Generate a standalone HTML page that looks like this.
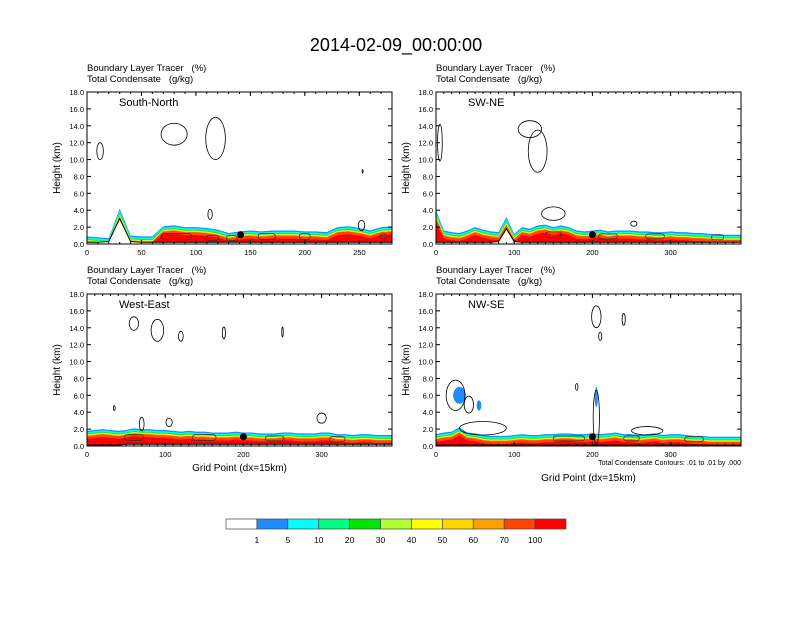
<!DOCTYPE html>
<html><head><meta charset="utf-8"><style>
body{margin:0;background:#fff;font-family:"Liberation Sans",sans-serif}
svg text{font-family:"Liberation Sans",sans-serif;white-space:pre}
</style></head><body>
<svg id="c" width="792" height="612" viewBox="0 0 792 612">
<text x="396" y="51" font-size="18" text-anchor="middle">2014-02-09_00:00:00</text>
</svg>
<script>
// ---- data ----
const panelTitles=["South-North","SW-NE","West-East","NW-SE"];
const xMaxes=[280,390,390,390];
const xTickVals1=[0,50,100,150,200,250];
const xTickVals2=[0,100,200,300];
const yTickVals=[0,2,4,6,8,10,12,14,16,18];
const pbl1=[0.9,0.8,0.7,4.2,1.0,0.9,0.9,2.1,2.2,2.0,2.0,1.9,1.7,1.3,1.5,1.6,1.5,1.6,1.6,1.6,1.5,1.5,1.4,2.0,2.1,1.9,1.6,2.0,2.1];
const pbl2=[4.0,1.6,1.4,1.3,1.6,2.0,1.7,1.5,1.4,3.2,1.2,2.0,1.8,2.2,2.3,2.0,2.2,2.0,1.6,1.5,1.6,1.7,1.5,1.6,1.6,1.6,1.5,1.5,1.4,1.4,1.5,1.4,1.4,1.3,1.3,1.2,1.1,1.1,1.1,1.1];
const pbl3=[1.8,1.9,2.0,1.9,1.8,1.9,2.1,2.0,2.0,1.9,1.9,1.8,1.7,1.8,1.7,1.7,1.6,1.6,1.6,1.7,1.6,1.6,1.5,1.5,1.5,1.6,1.6,1.5,1.5,1.5,1.6,1.6,1.4,1.4,1.3,1.4,1.4,1.3,1.3,1.3];
const pbl4=[1.4,1.6,1.7,2.2,1.6,1.5,1.3,1.2,1.2,1.2,1.3,1.4,1.3,1.3,1.4,1.4,1.5,1.5,1.4,1.4,1.5,1.4,1.5,1.6,1.4,1.4,1.3,1.4,1.5,1.3,1.4,1.4,1.3,1.2,1.2,1.1,1.1,1.1,1.1,1.1];
const terrain1=[0.2,0.2,0.3,3.0,0.3,0.2,0.2,0.2,0.2,0.2,0.2,0.2,0.2,0.2,0.2,0.2,0.2,0.2,0.2,0.2,0.2,0.2,0.2,0.2,0.2,0.2,0.2,0.2,0.2];
const terrain2=[0.2,0.2,0.2,0.2,0.2,0.2,0.2,0.2,0.3,1.8,0.3,0.2,0.2,0.2,0.2,0.2,0.2,0.2,0.2,0.2,0.2,0.2,0.2,0.2,0.2,0.2,0.2,0.2,0.2,0.2,0.2,0.2,0.2,0.2,0.2,0.2,0.2,0.2,0.2,0.2];
const terrain3=[0.1,0.1,0.1,0.1,0.1,0.2,0.2,0.2,0.2,0.2,0.2,0.2,0.2,0.2,0.2,0.2,0.2,0.2,0.2,0.2,0.2,0.2,0.2,0.2,0.2,0.2,0.2,0.2,0.2,0.2,0.2,0.2,0.2,0.2,0.2,0.2,0.2,0.2,0.2,0.2];
const terrain4=[0.1,0.1,0.1,0.1,0.1,0.1,0.1,0.1,0.1,0.1,0.1,0.1,0.1,0.1,0.1,0.1,0.1,0.1,0.1,0.1,0.1,0.1,0.1,0.1,0.1,0.1,0.1,0.1,0.1,0.1,0.1,0.1,0.1,0.1,0.1,0.1,0.1,0.1,0.1,0.1];
// contours: [x, z, rx(grid), rz(km)]
const cont1=[[12,11,3,1],[80,13,12,1.3],[118,12.5,9,2.5],[113,3.5,2,0.6],[253,8.6,0.5,0.2],[252,2.2,3,0.6]];
const cont2=[[5,12,3,2.2],[120,13.6,15,1],[130,11,12,2.5],[150,3.6,15,0.8],[253,2.4,4,0.3]];
const cont3=[[60,14.5,6,0.8],[90,13.7,8,1.3],[120,13,3,0.6],[175,13.4,2,0.7],[250,13.5,1,0.6],[35,4.5,1,0.3],[70,2.6,3,0.8],[105,2.8,4,0.5],[300,3.3,6,0.6]];
const cont4=[[25,6,12,1.8],[42,4.9,6,1],[205,15.3,6,1.3],[240,15,2,0.7],[210,13,2,0.5],[180,7,1.5,0.4],[205,3.4,4,3.2],[60,2.1,30,0.8],[270,1.8,20,0.5]];
const surfCont1=[[82,0.9,14,0.35],[115,0.7,6,0.3],[133,0.7,5,0.3],[165,0.9,8,0.35],[200,0.9,5,0.35],[272,0.9,3,0.3]];
const surfCont2=[[150,1.1,10,0.35],[220,0.9,12,0.3],[280,0.9,12,0.3],[360,0.8,8,0.3]];
const surfCont3=[[60,1.0,12,0.35],[150,1.0,15,0.35],[240,0.9,12,0.3],[320,0.8,10,0.3]];
const surfCont4=[[170,0.9,20,0.3],[250,0.9,10,0.3],[330,0.8,12,0.3]];
const blueBlob=[[30,6,8,1],[55,4.8,3,0.6],[205,5.8,2,1.2]];
const dotX=[141,200,200,200];
const cbLabels=["1","5","10","20","30","40","50","60","70","100"];
const cbColors=["#ffffff","#1e8cff","#00ffff","#00ff80","#00e600","#b0ff30","#ffff00","#ffd700","#ffa000","#ff4500","#ff0000"];
// ---- drawing ----
const svg=document.getElementById('c');const NS="http://www.w3.org/2000/svg";
function mk(t,a,p){const e=document.createElementNS(NS,t);for(const k in a)e.setAttribute(k,a[k]);(p||svg).appendChild(e);return e;}
const pbls=[pbl1,pbl2,pbl3,pbl4],ters=[terrain1,terrain2,terrain3,terrain4],conts=[cont1,cont2,cont3,cont4],surfs=[surfCont1,surfCont2,surfCont3,surfCont4];
const origins=[[87,92],[436,92],[87,294],[436,294]];const W=305,H=152;
const bandOff=[[0,"#1e8cff"],[0.15,"#00ffff"],[0.28,"#00ff80"],[0.36,"#00e600"],[0.42,"#b0ff30"],[0.47,"#ffff00"],[0.52,"#ffd700"],[0.57,"#ffa000"],[0.63,"#ff4500"],[0.95,"#ff0000"]];
for(let p=0;p<4;p++){
  const [ox,oy]=origins[p];const xm=xMaxes[p];
  const sx=v=>ox+v/xm*W, sy=z=>oy+H-z/18*H;
  const g=mk('g',{});
  
  
  const t1=mk('text',{x:ox,y:oy-21,'font-size':9.5},g);t1.textContent="Boundary Layer Tracer   (%)";
  
  const t2=mk('text',{x:ox,y:oy-10,'font-size':9.5},g);t2.textContent="Total Condensate   (g/kg)";
  
  const pb=pbls[p],te=ters[p];
  const step=xm/(pb.length-1);
  bandOff.forEach(([f,col])=>{
    let pts=[];
    pb.forEach((h,i)=>{const z=Math.max(te[i],h-f*(h>2.5?1.6:1));pts.push(sx(Math.min(i*step,xm))+','+sy(z));});
    pts.push(sx(xm)+','+sy(0));pts.push(sx(0)+','+sy(0));
    const pg=mk('polygon',{points:pts.join(' '),fill:col},g);
    
  });
  let tp=te.map((z,i)=>sx(Math.min(i*step,xm))+','+sy(z));tp.push(sx(xm)+','+sy(0));tp.push(sx(0)+','+sy(0));
  const tr=mk('polygon',{points:tp.join(' '),fill:'#fff',stroke:'#000','stroke-width':1},g);
  
  if(p==3)blueBlob.forEach(b=>{const e=mk('ellipse',{cx:sx(b[0]),cy:sy(b[1]),rx:b[2]/xm*W,ry:b[3]/18*H,fill:'#1e8cff'},g);
    });
  conts[p].forEach(c=>{const e=mk('ellipse',{cx:sx(c[0]),cy:sy(c[1]),rx:c[2]/xm*W,ry:c[3]/18*H,fill:'none',stroke:'#000','stroke-width':0.8},g);
    });
  surfs[p].forEach(c=>{const r=mk('rect',{x:sx(c[0]-c[2]),y:sy(c[1]+c[3]),width:2*c[2]/xm*W,height:2*c[3]/18*H,rx:3,fill:'none',stroke:'#333','stroke-width':0.8},g);
    });
  const d=mk('circle',{cx:sx(dotX[p]),cy:sy(1.1),r:3.5,fill:'#000'},g);
  
  const fr=mk('rect',{x:ox,y:oy,width:W,height:H,fill:'none',stroke:'#000','stroke-width':1},g);
  
  yTickVals.forEach(v=>{const y=sy(v);
    mk('line',{x1:ox,x2:ox+4,y1:y,y2:y,stroke:'#000'},g);mk('line',{x1:ox+W,x2:ox+W-4,y1:y,y2:y,stroke:'#000'},g);
    const tx=mk('text',{x:ox-3,y:y+3,'font-size':7.5,'text-anchor':'end'},g);tx.textContent=v.toFixed(1);
    });
  const xt=p==0?xTickVals1:xTickVals2;
  xt.forEach(v=>{const x=sx(v);
    mk('line',{x1:x,x2:x,y1:oy+H,y2:oy+H-4,stroke:'#000'},g);mk('line',{x1:x,x2:x,y1:oy,y2:oy+4,stroke:'#000'},g);
    const tx=mk('text',{x:x,y:oy+H+11,'font-size':7.5,'text-anchor':'middle'},g);tx.textContent=v;
    });
  for(let v=0;v<=xm;v+=10){const x=sx(v);mk('line',{x1:x,x2:x,y1:oy+H,y2:oy+H-2,stroke:'#000'},g);mk('line',{x1:x,x2:x,y1:oy,y2:oy+2,stroke:'#000'},g);}
  const yl=mk('text',{x:0,y:0,'font-size':10,'text-anchor':'middle',transform:`translate(${ox-27},${oy+H/2}) rotate(-90)`},g);yl.textContent="Height (km)";
  
  const pt=mk('text',{x:ox+32,y:oy+14,'font-size':11},g);pt.textContent=panelTitles[p];
  
  if(p>=2){const xl=mk('text',{x:ox+W/2,y:oy+H+(p==3?35:25),'font-size':10,'text-anchor':'middle'},g);xl.textContent="Grid Point (dx=15km)";
    }
  if(p==3){const n=mk('text',{x:ox+W,y:oy+H+19,'font-size':7,'text-anchor':'end'},g);n.textContent="Total Condensate Contours: .01 to .01 by .000";
    }
}
// colorbar
const cbx=226,cby=519,cbw=340/11;
cbColors.forEach((col,i)=>{const r=mk('rect',{x:cbx+i*cbw,y:cby,width:cbw,height:10,fill:col,stroke:'#444','stroke-width':0.7});
  });
cbLabels.forEach((l,i)=>{const t=mk('text',{x:cbx+(i+1)*cbw,y:cby+24,'font-size':8.5,'text-anchor':'middle'});t.textContent=l;
  });
</script>
</body></html>
